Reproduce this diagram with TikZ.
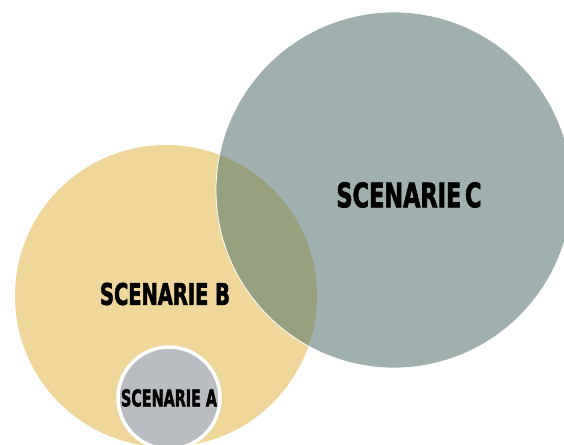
\documentclass[tikz,border=0pt]{standalone}
\usepackage{fontspec}
\setmainfont{DejaVu Sans}
\newfontfamily\heavyfont{DejaVu Sans}[BoldFeatures={FakeBold=2.5}]
\usetikzlibrary{positioning}
\definecolor{sandB}{HTML}{EFD79B}
\definecolor{slateC}{HTML}{9FB0AF}
\definecolor{oliveBC}{HTML}{97A07C}
\definecolor{greyA}{HTML}{B9BCC0}
\tikzset{venn/.style={circle,inner sep=0pt},
  tag/.style={inner sep=0pt,font=\heavyfont\bfseries}}
\newcommand{\squeeze}[3]{\resizebox{#1pt}{#2pt}{#3}}

\begin{document}
\begin{tikzpicture}[x=1pt,y=-1pt]
\useasboundingbox (0,0) rectangle (564,444);
\node[venn,fill=sandB,minimum size=302pt] (B) at (166,296) {};
\node[venn,fill=slateC,minimum size=356pt] (C) at (394,190) {};
\begin{scope}
\clip (B.center) circle (151);
\fill[oliveBC] (C.center) circle (178);
\end{scope}
\draw[white,line width=0.8pt] (C.center) circle (178);
\node[venn,fill=greyA,draw=white,line width=3.5pt,minimum size=102pt] (A) at (169,398) {};

\node[tag] (labC) at (409,195) {\squeeze{145}{25}{SCENARIE\,C}};
\node[tag] (labB) at (165,294) {\squeeze{130}{22}{SCENARIE B}};
\node[tag] (labA) at (A.center) {\squeeze{96}{17}{SCENARIE A}};
\end{tikzpicture}
\end{document}
